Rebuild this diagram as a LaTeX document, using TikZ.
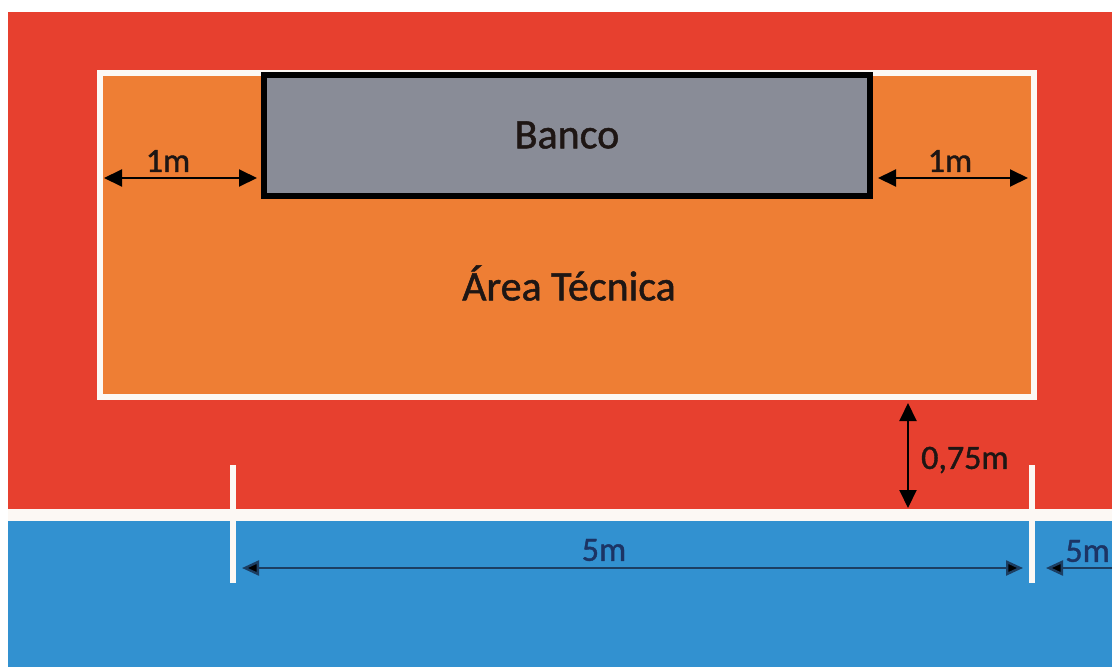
\documentclass[tikz,border=0pt]{standalone}
\usepackage{fontspec}
\setmainfont{Carlito}[FakeBold=1.2]
\usetikzlibrary{arrows.meta}
\definecolor{fieldred}{RGB}{231,64,47}
\definecolor{techorange}{RGB}{238,126,52}
\definecolor{benchgray}{RGB}{137,140,151}
\definecolor{courtblue}{RGB}{50,145,208}
\definecolor{linewhite}{RGB}{252,248,244}
\definecolor{navytext}{RGB}{28,52,100}
\definecolor{navyline}{RGB}{28,62,98}
\definecolor{darktext}{RGB}{30,22,20}
\tikzset{
  dimarrow/.style={line width=2pt, {Triangle[length=18pt,width=17pt]}-{Triangle[length=18pt,width=17pt]}},
  dimarrowblue/.style={line width=2.4pt, navyline, {Triangle[length=17pt,width=15pt,fill=black]}-{Triangle[length=17pt,width=15pt,fill=black]}},
  dimlabel/.style={font=\fontsize{34}{34}\selectfont, text=darktext, inner sep=0pt},
  bluelabel/.style={font=\fontsize{34}{34}\selectfont, text=navytext, inner sep=0pt},
  bigtext/.style={font=\fontsize{42}{42}\selectfont, text=darktext, inner sep=0pt},
  tick/.style={linewhite, line width=6pt}
}
\begin{document}
\begin{tikzpicture}[x=1pt,y=-1pt]
\useasboundingbox (0,0) rectangle (1112,667);
\fill[white] (0,0) rectangle (1112,667);
% zones
\fill[fieldred] (8,12) rectangle (1112,509);
\fill[courtblue] (8,521) rectangle (1112,667);
\fill[linewhite] (8,509) rectangle (1112,521);
% technical area
\draw[linewhite, line width=6pt, fill=techorange] (99.5,73) rectangle (1033.5,396.5);
\node[draw=black, line width=6pt, fill=benchgray, minimum width=606.5pt, minimum height=121pt, inner sep=0pt] (banco) at (566.75,135) {};
\node[bigtext] (bancotxt) at (567,135) {Banco};
\node[bigtext] (area) at (569,283) {Área Técnica};
% 1m arrows
\coordinate (l1a) at (104,178);
\coordinate (l1b) at (257,178);
\draw[dimarrow] (l1a) -- (l1b);
\node[dimlabel] (l1m) at (168,161) {1m};
\coordinate (r1a) at (878,178);
\coordinate (r1b) at (1028,178);
\draw[dimarrow] (r1a) -- (r1b);
\node[dimlabel] (r1m) at (950,161) {1m};
% 0,75m arrow
\coordinate (va) at (908,403);
\coordinate (vb) at (908,508);
\draw[dimarrow] (va) -- (vb);
\node[dimlabel, anchor=west] (v75) at (921,460) {0,75m};
% ticks
\coordinate (t1a) at (233,465);
\coordinate (t1b) at (233,583);
\draw[tick] (t1a) -- (t1b);
\coordinate (t2a) at (1032,465);
\coordinate (t2b) at (1032,583);
\draw[tick] (t2a) -- (t2b);
% 5m arrow
\coordinate (ha) at (242,568);
\coordinate (hb) at (1023,568);
\draw[dimarrowblue] (ha) -- (hb);
\node[bluelabel] (h5m) at (604,550) {5m};
\coordinate (ra) at (1046,568);
\coordinate (rb) at (1112,568);
\draw[line width=2.4pt, navyline, {Triangle[length=17pt,width=15pt,fill=black]}-] (ra) -- (rb);
\node[bluelabel, anchor=east] (r5m) at (1110,551) {5m};
\end{tikzpicture}
\end{document}
